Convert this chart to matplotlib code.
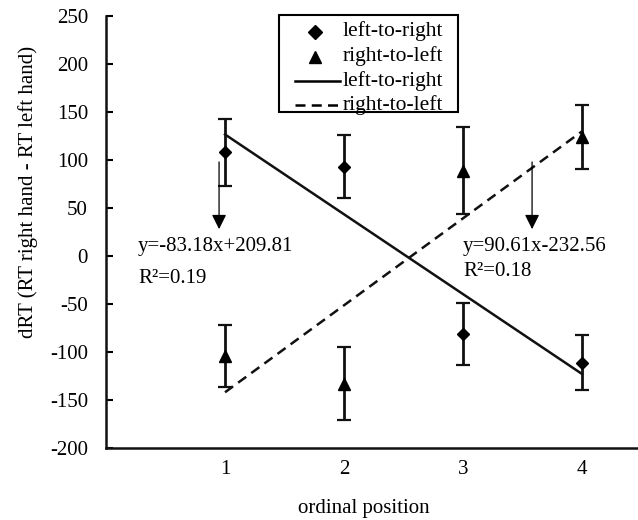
import matplotlib
matplotlib.use("Agg")
import matplotlib.pyplot as plt
from matplotlib.lines import Line2D
from matplotlib.patches import Rectangle
import numpy as np

plt.rcParams['font.family'] = ['Liberation Serif', 'DejaVu Serif']
plt.rcParams['axes.unicode_minus'] = False

positions = [1, 2, 3, 4]
ltr_means = [108, 93, -81, -111]
ltr_err = [35, 33, 32.5, 29]
rtl_means = [-104, -133, 89, 124]
rtl_err = [32.5, 38, 45, 33]

ltr_slope, ltr_icpt = -83.18, 209.81
rtl_slope, rtl_icpt = 90.61, -232.56

yticks = [-200, -150, -100, -50, 0, 50, 100, 150, 200, 250]
xticks = [1, 2, 3, 4]
legend_labels = ['left-to-right', 'right-to-left', 'left-to-right', 'right-to-left']

FS = 15
W, H = 638, 520

fig = plt.figure(figsize=(W/100, H/100), dpi=100)
ax = fig.add_axes([106/W, 1-448/H, 1-106/W, (448-16)/H])

ax.errorbar(positions, ltr_means, yerr=ltr_err, fmt='D', color='black', ms=6.5,
            ecolor='#111111', elinewidth=2, capsize=5, capthick=1.6, zorder=3)
ax.errorbar(positions, rtl_means, yerr=rtl_err, fmt='^', color='black', ms=8.5,
            ecolor='#111111', elinewidth=2, capsize=5, capthick=1.6, zorder=3)

xs = np.array([positions[0], positions[-1]])
ax.plot(xs, ltr_slope*xs + ltr_icpt, color='#111111', lw=1.8, zorder=2)
ax.plot(xs, rtl_slope*xs + rtl_icpt, color='#111111', lw=1.8, ls=(0, (4, 2.5)), zorder=2)

for xa in (0.95, 3.58):
    ax.annotate('', xy=(xa, 28), xytext=(xa, 98),
                arrowprops=dict(arrowstyle='-|>', color='black', lw=0.9,
                                mutation_scale=22, shrinkA=0, shrinkB=0))

ax.text(0.27, 5, 'y=-83.18x+209.81', fontsize=FS, ha='left', va='baseline')
ax.text(0.27, -28, 'R²=0.19', fontsize=FS, ha='left', va='baseline')
ax.text(3.0, 5, 'y=90.61x-232.56', fontsize=FS, ha='left', va='baseline')
ax.text(3.0, -21, 'R²=0.18', fontsize=FS, ha='left', va='baseline')

ax.set_xlim(0, 4.47)
ax.set_ylim(-200, 250)
ax.set_yticks(yticks)
ax.set_xticks(xticks)
ax.tick_params(axis='y', direction='in', length=5, width=1.5, labelsize=FS, pad=13)
ax.tick_params(axis='x', length=0, labelsize=FS, pad=9)
for s in ('top', 'right'):
    ax.spines[s].set_visible(False)
for s in ('left', 'bottom'):
    ax.spines[s].set_linewidth(1.8)
    ax.spines[s].set_color('#111111')

ax.set_xlabel('ordinal position', fontsize=FS, va='center')
ax.xaxis.set_label_coords((363.5-106)/532, -(508-448)/432)
ax.set_ylabel('dRT (RT right hand - RT left hand)', fontsize=FS, va='center')
ax.yaxis.set_label_coords((28-106)/532, (448-192)/432)

# manual legend
def fx(px):
    return px / W

def fy(py):
    return 1 - py / H

fig.patches.append(Rectangle((fx(279), fy(112)), fx(458)-fx(279), (112-15)/H,
                             transform=fig.transFigure, facecolor='white',
                             edgecolor='black', lw=1.5, zorder=5))
rows = [31.5, 56.5, 81, 105]
fig.add_artist(Line2D([fx(315)], [fy(rows[0])], marker='D', color='black', ms=7,
                      ls='none', transform=fig.transFigure, zorder=6))
fig.add_artist(Line2D([fx(315)], [fy(rows[1])], marker='^', color='black', ms=9,
                      ls='none', transform=fig.transFigure, zorder=6))
fig.add_artist(Line2D([fx(295), fx(340)], [fy(rows[2])]*2, color='black', lw=1.8,
                      transform=fig.transFigure, zorder=6))
fig.add_artist(Line2D([fx(295), fx(340)], [fy(rows[3])]*2, color='black', lw=1.8,
                      ls=(0, (4, 2.5)), transform=fig.transFigure, zorder=6))
for r, lab in zip(rows, legend_labels):
    fig.text(fx(343), fy(r), lab, fontsize=15.5, ha='left', va='center', zorder=7)

fig.savefig('out.png', dpi=100)
